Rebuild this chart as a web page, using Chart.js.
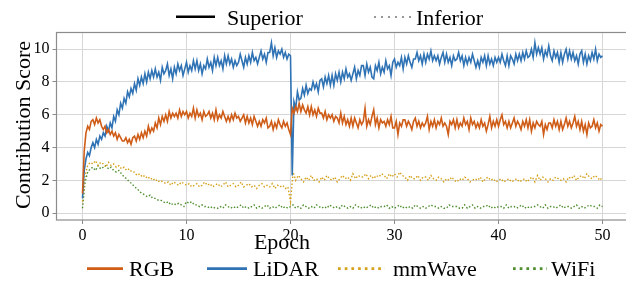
<!DOCTYPE html>
<html>
<head>
<meta charset="utf-8">
<script src="https://cdn.jsdelivr.net/npm/chart.js@4.4.1/dist/chart.umd.min.js"></script>
<style>
  html, body { margin: 0; padding: 0; background: #fff; overflow: hidden; }
  #wrap { position: relative; width: 626px; height: 281px; overflow: hidden; }
  canvas { position: absolute; left: 0; top: 0; }
  svg { position: absolute; left: 0; top: 0; pointer-events: none; }
  svg text { font-family: "Liberation Serif", "Times New Roman", serif; font-size: 22px; fill: #000; }
</style>
</head>
<body>
<div id="wrap">
  <canvas id="c" width="640" height="281"></canvas>
  <svg width="626" height="281" xmlns="http://www.w3.org/2000/svg">
    <line x1="176" y1="16.7" x2="215" y2="16.7" stroke="#000" stroke-width="2.5"/>
    <text x="227" y="25">Superior</text>
    <line x1="374" y1="17" x2="412" y2="17" stroke="#999" stroke-width="2" stroke-dasharray="2 5"/>
    <text x="416" y="25">Inferior</text>
    <text x="282" y="249" text-anchor="middle">Epoch</text>
    <text transform="translate(30,125) rotate(-90)" text-anchor="middle">Contribution Score</text>
    <line x1="87" y1="268.7" x2="123" y2="268.7" stroke="#cf5c17" stroke-width="2.7"/>
    <text x="129" y="276">RGB</text>
    <line x1="207" y1="268.7" x2="247" y2="268.7" stroke="#2f73b5" stroke-width="2.7"/>
    <text x="253" y="276">LiDAR</text>
    <line x1="338" y1="268.7" x2="385" y2="268.7" stroke="#d6a21c" stroke-width="2.7" stroke-dasharray="2.7 4"/>
    <text x="393" y="276">mmWave</text>
    <line x1="513" y1="268.7" x2="547" y2="268.7" stroke="#4f8f2f" stroke-width="2.7" stroke-dasharray="2.7 4"/>
    <text x="551" y="276">WiFi</text>
  </svg>
</div>
<script>
// Sampling intervals between recorded points (epochs)
const STEP_SOLID = 1 / 6;   // RGB, LiDAR
const STEP_DOTTED = 0.25;   // mmWave, WiFi

const xTicks = [0, 10, 20, 30, 40, 50];
const yTicks = [0, 2, 4, 6, 8, 10];

const lidar = [
  0.9, 2.6, 3.3, 3.7, 3.5, 4.0,   4.3, 4.0, 4.5, 4.2, 4.7, 4.5,   4.9, 4.7, 5.3, 5.0, 5.5, 5.2,
  5.9, 5.6, 6.3, 6.0, 6.7, 6.4,   7.0, 6.7, 7.4, 7.1, 7.6, 7.3,   7.9, 7.5, 8.2, 7.8, 8.3, 7.9,
  8.5, 8.0, 8.6, 8.2, 8.7, 8.3,   8.8, 8.3, 8.6, 8.1, 8.9, 8.5,   8.7, 9.1, 8.4, 8.8, 8.2, 8.9,
  8.5, 9.1, 8.7, 9.0, 8.4, 8.8,   9.2, 8.6, 9.0, 8.7, 9.3, 8.8,   9.3, 8.7, 9.1, 8.5, 9.0, 8.8,
  9.4, 8.9, 9.2, 8.7, 9.5, 9.0,   9.5, 9.0, 9.3, 8.8, 9.6, 9.1,   9.6, 9.1, 9.4, 8.9, 9.3, 9.0,
  9.2, 9.7, 9.3, 8.9, 9.5, 9.1,   9.6, 9.2, 9.8, 9.3, 9.5, 9.1,   9.5, 9.9, 9.4, 9.7, 9.2, 9.8,
  9.8, 10.4, 9.6, 10.1, 9.5, 9.9, 9.7, 10.0, 9.5, 9.8, 9.4, 9.7,  9.6, 2.3, 6.8, 6.4, 7.4, 6.9,
  7.0, 7.6, 7.2, 7.8, 7.3, 7.6,   7.5, 8.0, 7.6, 7.9, 7.4, 8.1,   8.2, 7.7, 8.3, 7.9, 8.4, 7.8,
  8.4, 7.8, 8.5, 8.1, 8.6, 8.0,   8.6, 8.2, 8.8, 8.3, 8.5, 8.1,   8.5, 8.9, 8.2, 8.7, 8.4, 9.0,
  9.0, 8.4, 9.1, 8.6, 8.9, 8.3,   8.2, 9.0, 8.7, 9.2, 8.5, 8.9,   8.6, 9.3, 8.8, 9.0, 8.4, 9.2,
  9.4, 8.9, 9.2, 9.0, 9.5, 8.8,   9.5, 9.1, 9.6, 9.2, 8.9, 9.4,   9.4, 9.8, 9.3, 9.6, 9.1, 9.7,
  9.2, 9.7, 9.4, 9.9, 9.3, 9.6,   9.3, 9.6, 9.1, 9.5, 9.8, 9.2,   9.7, 9.2, 9.5, 9.0, 9.6, 9.3,
  9.4, 9.8, 9.3, 9.6, 9.0, 9.5,   9.1, 9.5, 9.2, 9.7, 9.3, 8.9,   9.3, 8.9, 9.5, 9.2, 9.6, 9.0,
  9.6, 9.1, 9.4, 9.0, 9.5, 9.2,   9.5, 9.2, 9.7, 9.3, 9.0, 9.6,   9.0, 9.6, 9.4, 9.1, 9.7, 9.3,
  9.7, 9.3, 9.8, 9.4, 9.9, 9.5,   9.6, 10.0, 9.5, 10.4, 9.7, 10.1, 9.7, 10.1, 9.4, 9.9, 9.6, 10.2,
  9.6, 9.3, 9.9, 9.5, 9.8, 9.2,   9.8, 9.2, 9.7, 10.0, 9.4, 9.9,  9.4, 9.8, 9.3, 9.6, 9.1, 9.7,
  9.9, 9.2, 9.7, 9.1, 9.6, 9.3,   9.8, 9.4, 10.0, 9.3, 9.7, 9.5,  9.6
];

const rgb = [
  1.2, 3.8, 4.9, 5.3, 5.1, 5.6,   5.7, 5.4, 5.8, 5.5, 5.7, 5.3,   5.1, 5.3, 4.9, 5.1, 4.8, 5.0,
  4.7, 4.9, 4.5, 4.8, 4.6, 4.4,   4.4, 4.6, 4.3, 4.5, 4.2, 4.6,   4.7, 4.4, 4.8, 4.5, 4.9, 4.6,
  5.0, 4.7, 5.3, 4.9, 5.2, 5.0,   5.5, 5.2, 5.8, 5.4, 5.9, 5.6,   6.0, 5.6, 6.2, 5.8, 6.1, 5.9,
  6.1, 5.8, 6.3, 5.9, 6.2, 6.0,   6.2, 5.8, 6.1, 5.9, 6.4, 5.8,   6.3, 5.9, 6.1, 5.7, 6.2, 5.9,
  6.0, 6.2, 5.8, 6.1, 5.7, 6.3,   5.7, 6.0, 5.8, 6.2, 5.9, 5.6,   5.9, 5.6, 6.0, 5.7, 6.1, 5.8,
  5.9, 5.6, 5.8, 6.0, 5.5, 5.9,   5.5, 5.8, 5.4, 5.9, 5.6, 5.3,   5.6, 5.3, 5.7, 5.5, 5.8, 5.2,
  5.3, 5.6, 5.1, 5.5, 5.2, 5.7,   5.4, 5.2, 5.6, 5.3, 5.5, 5.1,   4.8, 6.4, 6.1, 6.5, 6.2, 6.7,
  6.2, 6.6, 6.3, 6.1, 6.5, 6.0,   6.5, 6.0, 6.3, 5.9, 6.4, 6.1,   6.1, 5.8, 6.2, 5.7, 6.0, 5.8,
  6.0, 5.6, 5.9, 5.8, 5.5, 6.1,   5.5, 5.9, 5.4, 5.7, 5.3, 5.8,   5.3, 5.8, 5.5, 5.2, 5.7, 5.4,
  5.6, 6.4, 5.3, 5.7, 5.4, 5.9,   6.3, 5.4, 5.8, 5.2, 5.7, 5.5,   5.6, 5.3, 5.7, 5.4, 5.9, 5.2,
  5.2, 5.6, 4.8, 5.5, 5.3, 5.7,   5.7, 5.3, 5.6, 5.4, 5.1, 5.6,   5.8, 5.3, 5.6, 5.2, 5.5, 5.3,
  5.5, 5.9, 5.1, 5.6, 5.3, 5.7,   5.2, 5.6, 5.4, 5.8, 5.3, 5.5,   5.3, 4.8, 5.6, 5.4, 5.7, 5.2,
  5.7, 5.2, 5.5, 5.3, 5.8, 5.4,   5.6, 5.1, 5.8, 5.4, 5.6, 5.2,   5.5, 5.2, 5.7, 5.3, 5.5, 5.0,
  5.4, 5.9, 5.2, 5.6, 5.3, 5.7,   5.3, 5.7, 6.0, 5.4, 5.6, 5.2,   5.6, 5.2, 5.5, 5.8, 5.3, 5.6,
  5.4, 5.1, 5.6, 5.3, 5.7, 5.2,   5.7, 5.0, 5.5, 5.2, 5.6, 5.4,   5.3, 5.6, 4.8, 5.4, 5.1, 5.5,
  5.5, 5.2, 5.7, 5.3, 5.6, 5.1,   5.6, 5.1, 5.4, 5.8, 5.3, 5.6,   5.2, 5.5, 5.9, 5.3, 5.6, 5.1,
  5.6, 5.0, 5.4, 4.8, 5.5, 5.2,   5.3, 5.7, 5.2, 5.5, 5.0, 5.4,   5.3
];

const mmwave = [
  0.7, 2.3, 2.9, 3.1,  3.0, 3.2, 2.9, 3.1,  3.0, 2.8, 3.1, 2.9,  3.0, 2.8, 2.9, 2.7,
  2.8, 2.6, 2.7, 2.5,  2.5, 2.3, 2.4, 2.2,  2.3, 2.1, 2.2, 2.0,  2.1, 1.9, 2.0, 1.9,
  1.8, 1.9, 1.7, 1.9,  1.8, 1.7, 1.9, 1.8,  1.7, 1.8, 1.6, 1.7,  1.8, 1.6, 1.7, 1.9,
  1.7, 1.8, 1.6, 1.7,  1.8, 1.6, 1.7, 1.9,  1.6, 1.7, 1.8, 1.6,  1.7, 1.9, 1.6, 1.7,
  1.8, 1.6, 1.7, 1.5,  1.7, 1.8, 1.6, 1.7,  1.6, 1.8, 1.5, 1.7,  1.6, 1.7, 1.5, 1.6,
  0.7, 2.5, 2.0, 2.3,  2.1, 1.9, 2.2, 2.0,  2.3, 2.0, 2.1, 1.9,  2.2, 2.0, 2.3, 2.1,
  2.0, 2.2, 1.9, 2.1,  2.3, 2.1, 2.2, 2.0,  2.4, 2.1, 2.3, 2.2,  2.2, 2.4, 2.1, 2.3,
  2.1, 2.3, 2.2, 2.4,  2.3, 2.1, 2.4, 2.2,  2.4, 2.2, 2.5, 2.3,  2.2, 2.0, 2.3, 2.1,
  2.1, 2.3, 2.0, 2.2,  2.2, 2.0, 2.3, 2.1,  2.0, 2.2, 2.1, 1.9,  2.1, 2.0, 2.2, 2.0,
  1.9, 2.1, 2.0, 2.2,  2.1, 1.9, 2.0, 2.1,  2.0, 2.2, 1.9, 2.1,  2.2, 2.0, 2.1, 1.9,
  2.0, 2.1, 1.9, 2.0,  2.1, 1.9, 2.0, 2.1,  1.9, 2.0, 2.1, 1.9,  2.1, 2.2, 1.9, 2.3,
  2.0, 2.2, 2.1, 1.9,  2.1, 2.0, 2.2, 2.1,  2.0, 2.1, 1.9, 2.2,  2.1, 2.3, 2.0, 2.2,
  2.3, 2.1, 2.4, 2.2,  2.1, 2.3, 2.2, 2.0,  2.2
];

const wifi = [
  0.3, 1.9, 2.5, 2.7,  2.8, 2.6, 2.9, 2.7,  2.8, 2.9, 2.7, 2.8,  2.6, 2.5, 2.6, 2.4,
  2.2, 2.1, 1.9, 1.8,  1.6, 1.5, 1.3, 1.2,  1.1, 1.0, 1.1, 0.9,  0.9, 0.8, 0.8, 0.7,
  0.6, 0.7, 0.5, 0.6,  0.5, 0.6, 0.5, 0.4,  0.7, 0.6, 0.7, 0.5,  0.5, 0.4, 0.5, 0.4,
  0.4, 0.3, 0.4, 0.3,  0.3, 0.4, 0.3, 0.5,  0.4, 0.3, 0.4, 0.3,  0.4, 0.5, 0.3, 0.4,
  0.3, 0.4, 0.5, 0.3,  0.4, 0.3, 0.4, 0.5,  0.3, 0.4, 0.3, 0.4,  0.5, 0.3, 0.4, 0.3,
  0.4, 0.5, 0.3, 0.4,  0.3, 0.5, 0.4, 0.3,  0.4, 0.3, 0.5, 0.4,  0.3, 0.4, 0.3, 0.5,
  0.4, 0.3, 0.4, 0.3,  0.5, 0.4, 0.3, 0.4,  0.3, 0.5, 0.4, 0.3,  0.4, 0.3, 0.4, 0.5,
  0.3, 0.4, 0.3, 0.4,  0.4, 0.5, 0.3, 0.4,  0.3, 0.4, 0.5, 0.3,  0.4, 0.3, 0.4, 0.3,
  0.5, 0.4, 0.3, 0.4,  0.3, 0.4, 0.5, 0.4,  0.4, 0.3, 0.4, 0.3,  0.3, 0.5, 0.4, 0.4,
  0.4, 0.3, 0.3, 0.5,  0.3, 0.4, 0.5, 0.3,  0.4, 0.3, 0.4, 0.4,  0.5, 0.3, 0.4, 0.3,
  0.4, 0.4, 0.3, 0.5,  0.3, 0.4, 0.4, 0.3,  0.4, 0.5, 0.3, 0.4,  0.3, 0.4, 0.4, 0.5,
  0.4, 0.3, 0.5, 0.3,  0.4, 0.4, 0.3, 0.4,  0.5, 0.3, 0.4, 0.4,  0.3, 0.4, 0.5, 0.3,
  0.4, 0.3, 0.4, 0.5,  0.4, 0.4, 0.3, 0.5,  0.4
];

function pts(arr, step) { return arr.map((v, i) => ({ x: i * step, y: v })); }

const FRAME = '#8c8c8c';
const GRID = '#d6d6d6';
const FONT = { family: '"Liberation Serif", "Times New Roman", serif', size: 16 };

const framePlugin = {
  id: 'frame',
  afterDraw(chart) {
    const a = chart.chartArea, ctx = chart.ctx;
    ctx.save();
    ctx.strokeStyle = FRAME;
    ctx.lineWidth = 1.2;
    ctx.strokeRect(a.left, a.top, a.right - a.left, a.bottom - a.top);
    ctx.restore();
  }
};

new Chart(document.getElementById('c'), {
  type: 'line',
  data: {
    datasets: [
      { label: 'RGB', data: pts(rgb, STEP_SOLID), borderColor: '#cf5c17', borderWidth: 1.6 },
      { label: 'LiDAR', data: pts(lidar, STEP_SOLID), borderColor: '#2f73b5', borderWidth: 1.6 },
      { label: 'mmWave', data: pts(mmwave, STEP_DOTTED), borderColor: '#d6a21c', borderWidth: 1.4, borderDash: [1.5, 2] },
      { label: 'WiFi', data: pts(wifi, STEP_DOTTED), borderColor: '#4f8f2f', borderWidth: 1.4, borderDash: [1.5, 2] }
    ]
  },
  options: {
    responsive: false,
    animation: false,
    devicePixelRatio: 1,
    events: [],
    layout: { padding: { left: 0, top: 32.5, right: 11.5, bottom: 0 } },
    elements: { point: { radius: 0 }, line: { tension: 0, fill: false } },
    plugins: { legend: { display: false }, tooltip: { enabled: false }, title: { display: false } },
    scales: {
      x: {
        type: 'linear',
        min: -2.5, max: 52.5,
        afterFit(s) { s.height = 61; },
        afterBuildTicks(s) { s.ticks = xTicks.map(v => ({ value: v })); },
        ticks: { font: FONT, color: '#000', padding: 2, maxRotation: 0, includeBounds: false },
        grid: { color: GRID, lineWidth: 1, tickColor: FRAME, tickLength: 4, drawTicks: true },
        border: { display: false }
      },
      y: {
        type: 'linear',
        min: -0.42, max: 11.02,
        afterFit(s) { s.width = 56.5; },
        afterBuildTicks(s) { s.ticks = yTicks.map(v => ({ value: v })); },
        ticks: { font: FONT, color: '#000', padding: 3, includeBounds: false },
        grid: { color: GRID, lineWidth: 1, tickColor: FRAME, tickLength: 4, drawTicks: true },
        border: { display: false }
      }
    }
  },
  plugins: [framePlugin]
});
</script>
</body>
</html>
